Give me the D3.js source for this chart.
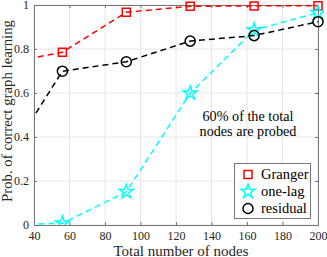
<!DOCTYPE html>
<html><head><meta charset="utf-8">
<script src="https://cdn.jsdelivr.net/npm/d3@7/dist/d3.min.js"></script>
<style>body{margin:0;background:#fff}svg{display:block}</style>
</head><body>
<script>
const nodes = [20, 56, 92, 128, 164, 200];
const granger = [0.73, 0.785, 0.967, 0.994, 0.996, 0.997];
const oneLag = [0, 0.008, 0.151, 0.599, 0.886, 0.965];
const residual = [0.24, 0.699, 0.742, 0.836, 0.861, 0.924];
const xTicks = [40, 60, 80, 100, 120, 140, 160, 180, 200];
const yTicks = [0, 0.2, 0.4, 0.6, 0.8, 1];
const seriesNames = ["Granger", "one-lag", "residual"];
const seriesColors = ["#ff0000", "#00ffff", "#000000"];

const FONT = "'Liberation Serif', 'Times New Roman', 'DejaVu Serif', serif";
const W = 327, H = 257;
const m = {l: 34, r: 9, t: 5, b: 32};
const svg = d3.select("body").append("svg").attr("width", W).attr("height", H)
  .attr("font-family", FONT);
const x = d3.scaleLinear().domain([40, 200]).range([m.l, W - m.r]);
const y = d3.scaleLinear().domain([0, 1]).range([H - m.b, m.t]);

svg.append("defs").append("clipPath").attr("id", "clip")
  .append("rect").attr("x", m.l).attr("y", m.t - 6).attr("width", W - m.r - m.l + 6).attr("height", H - m.b - m.t + 6);

// grid
const g = svg.append("g");
g.selectAll(".gx").data(xTicks).join("line")
  .attr("x1", d => x(d)).attr("x2", d => x(d)).attr("y1", y(0)).attr("y2", y(1))
  .attr("stroke", "#e6e6e6").attr("stroke-width", 1);
g.selectAll(".gy").data(yTicks).join("line")
  .attr("y1", d => y(d)).attr("y2", d => y(d)).attr("x1", x(40)).attr("x2", x(200))
  .attr("stroke", "#e6e6e6").attr("stroke-width", 1);

// axes
const axCol = "#777";
function styleAxis(sel) {
  sel.attr("font-family", FONT);
  sel.select(".domain").attr("stroke", axCol);
  sel.selectAll(".tick line").attr("stroke", axCol);
  sel.selectAll("text").attr("fill", "#262626").attr("font-size", 12).attr("font-family", FONT);
}
svg.append("g").attr("transform", `translate(0,${y(0)})`)
  .call(d3.axisBottom(x).tickValues(xTicks).tickSize(-3).tickSizeOuter(0).tickPadding(6.5))
  .call(styleAxis);
svg.append("g").attr("transform", `translate(0,${y(1)})`)
  .call(d3.axisTop(x).tickValues(xTicks).tickSize(-3).tickSizeOuter(0).tickFormat(""))
  .call(styleAxis);
svg.append("g").attr("transform", `translate(${x(40)},0)`)
  .call(d3.axisLeft(y).tickValues(yTicks).tickSize(-3).tickSizeOuter(0).tickPadding(5).tickFormat(d3.format("~g")))
  .call(styleAxis);
svg.append("g").attr("transform", `translate(${x(200)},0)`)
  .call(d3.axisRight(y).tickValues(yTicks).tickSize(-3).tickSizeOuter(0).tickFormat(""))
  .call(styleAxis);

// series
const allSeries = [granger, oneLag, residual];
const line = d3.line().x((d, i) => x(nodes[i])).y(d => y(d));
const plot = svg.append("g").attr("clip-path", "url(#clip)");
const symbols = [d3.symbolSquare, d3.symbolStar, d3.symbolCircle];
const symSizes = [64, 60, 80];
allSeries.forEach((vals, si) => {
  plot.append("path").datum(vals).attr("d", line)
    .attr("fill", "none").attr("stroke", seriesColors[si]).attr("stroke-width", 1.5)
    .attr("stroke-dasharray", "6,4");
  plot.selectAll(null).data(vals.map((v, i) => [nodes[i], v])).join("path")
    .attr("transform", d => `translate(${x(d[0])},${y(d[1])})`)
    .attr("d", d3.symbol(symbols[si], symSizes[si]))
    .attr("fill", "none").attr("stroke", seriesColors[si]).attr("stroke-width", 1.5);
});

// annotation
const ann = svg.append("text").attr("text-anchor", "middle").attr("font-size", 14.2)
  .attr("font-family", FONT).attr("fill", "#000");
ann.append("tspan").attr("x", 248).attr("y", 121).text("60% of the total");
ann.append("tspan").attr("x", 248).attr("y", 135.5).text("nodes are probed");

// legend
const lg = svg.append("g");
lg.append("rect").attr("x", 234.5).attr("y", 163.5).attr("width", 76).attr("height", 55)
  .attr("fill", "#fff").attr("stroke", axCol).attr("stroke-width", 1);
seriesNames.forEach((name, i) => {
  const yy = 174.5 + i * 17;
  lg.append("path").attr("transform", `translate(248,${yy})`)
    .attr("d", d3.symbol(symbols[i], symSizes[i]))
    .attr("fill", "none").attr("stroke", seriesColors[i]).attr("stroke-width", 1.5);
  lg.append("text").attr("x", 261).attr("y", yy + 4.8).attr("font-size", 14.5)
    .attr("font-family", FONT).attr("fill", "#000").text(name);
});

// axis labels
svg.append("text").attr("x", 181).attr("y", 255.5).attr("text-anchor", "middle")
  .attr("font-size", 15).attr("font-family", FONT).attr("fill", "#262626").text("Total number of nodes");
svg.append("text").attr("transform", `translate(12,111) rotate(-90)`).attr("text-anchor", "middle")
  .attr("font-size", 14.8).attr("font-family", FONT).attr("fill", "#262626").text("Prob. of correct graph learning");
</script>
</body></html>
